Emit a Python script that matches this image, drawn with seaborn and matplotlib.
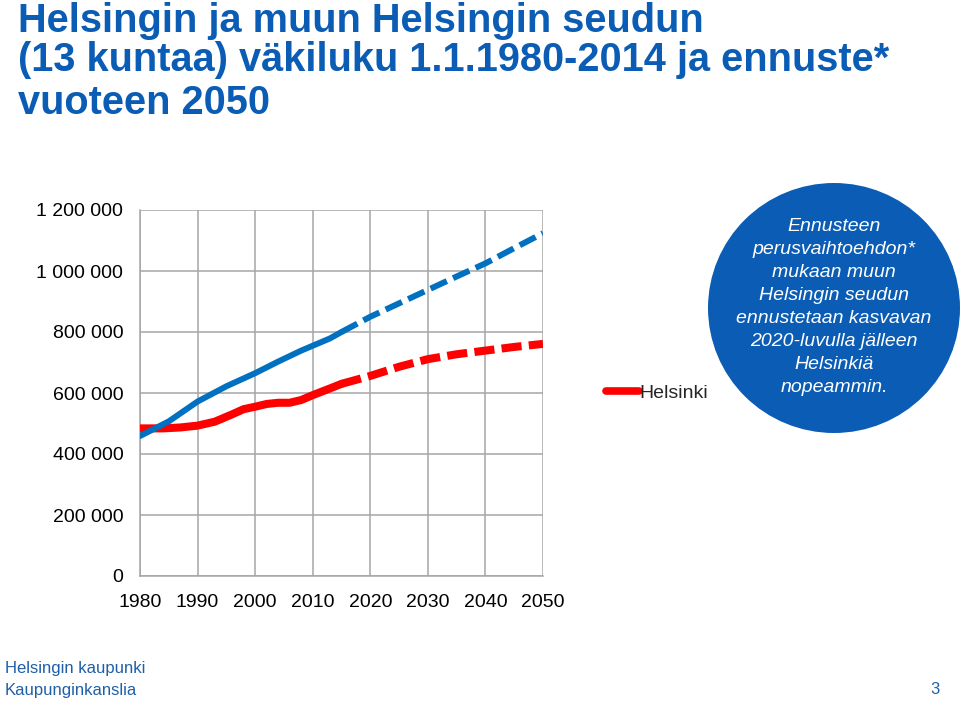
import pandas as pd
import seaborn as sns
import matplotlib.pyplot as plt
from matplotlib.patches import Ellipse
from matplotlib.lines import Line2D

# väkiluku, tuhatta asukasta
hki_years = [1980, 1984, 1987, 1990, 1993, 1996, 1998, 2000, 2002, 2004, 2006, 2008, 2010, 2013, 2015]
hki_pop = [484, 484, 487, 493, 506, 530, 547, 555, 564, 568, 568, 577, 593, 615, 630]
muu_years = [1980, 1985, 1990, 1995, 2000, 2004, 2008, 2010, 2013, 2015]
muu_pop = [459, 507, 572, 622, 665, 703, 739, 755, 779, 800]

fc_years = [2015, 2020, 2025, 2030, 2035, 2040, 2045, 2050]
hki_fc = [630, 656, 686, 711, 727, 739, 751, 761]
muu_fc = [800, 850, 894, 938, 982, 1025, 1075, 1124]

y_ticks = [0, 200000, 400000, 600000, 800000, 1000000, 1200000]
y_labels = ['0', '200 000', '400 000', '600 000', '800 000', '1 000 000', '1 200 000']
x_ticks = [1980, 1990, 2000, 2010, 2020, 2030, 2040, 2050]

ellipse_text = ('Ennusteen\nperusvaihtoehdon*\nmukaan muun\nHelsingin seudun\n'
                'ennustetaan kasvavan\n2020-luvulla jälleen\nHelsinkiä\nnopeammin.')

hki = pd.DataFrame({'vuosi': hki_years, 'vakiluku': [v * 1000 for v in hki_pop]})
muu = pd.DataFrame({'vuosi': muu_years, 'vakiluku': [v * 1000 for v in muu_pop]})
hki_e = pd.DataFrame({'vuosi': fc_years, 'vakiluku': [v * 1000 for v in hki_fc]})
muu_e = pd.DataFrame({'vuosi': fc_years, 'vakiluku': [v * 1000 for v in muu_fc]})

sns.set_style('white')
plt.rcParams['font.family'] = ['Liberation Sans', 'DejaVu Sans']

RED = '#FF0000'
BLUE = '#0070C0'
DARK = '#0A5CB4'
GRID = '#A6A6A6'

fig = plt.figure(figsize=(9.6, 7.04), dpi=100)
ax = fig.add_axes([140 / 960, 1 - 576 / 704, 403 / 960, 366 / 704])

sns.lineplot(data=hki, x='vuosi', y='vakiluku', ax=ax, color=RED, lw=5.8,
             solid_capstyle='round', zorder=3)
sns.lineplot(data=hki_e, x='vuosi', y='vakiluku', ax=ax, color=RED, lw=5.8,
             dashes=(2.5, 0.9), zorder=3)
sns.lineplot(data=muu, x='vuosi', y='vakiluku', ax=ax, color=BLUE, lw=4.3,
             solid_capstyle='round', zorder=4)
sns.lineplot(data=muu_e, x='vuosi', y='vakiluku', ax=ax, color=BLUE, lw=4.3,
             dashes=(3.0, 1.15), zorder=4)

ax.set_xlim(1980, 2050)
ax.set_ylim(0, 1200000)
ax.set_xticks(x_ticks)
ax.set_yticks(y_ticks)
ax.set_yticklabels(y_labels)
ax.set_xlabel('')
ax.set_ylabel('')
ax.grid(True, color=GRID, lw=1.1)
ax.set_axisbelow(True)
for s in ['top', 'right']:
    ax.spines[s].set_visible(False)
for s in ['left', 'bottom']:
    ax.spines[s].set_color(GRID)
    ax.spines[s].set_linewidth(1.1)
ax.tick_params(axis='both', which='both', direction='out', length=5, width=1.1,
               color=GRID, labelsize=14, labelcolor='black')
ax.tick_params(axis='y', pad=7)
ax.tick_params(axis='x', pad=8)

handle = Line2D([], [], color=RED, lw=5.5)
fig.legend([handle], ['Helsinki'], loc='center left',
           bbox_to_anchor=(606 / 960, 1 - 393 / 704), frameon=False,
           fontsize=14, handlelength=1.7, handletextpad=0.0, borderpad=0,
           borderaxespad=0)

fig.patches.append(Ellipse((834 / 960, 1 - 308 / 704), 252 / 960, 250 / 704,
                           transform=fig.transFigure, facecolor=DARK,
                           edgecolor='none', zorder=5))
fig.text(834 / 960, 1 - 307 / 704, ellipse_text, ha='center', va='center',
         ma='center', color='white', fontsize=14, style='italic',
         linespacing=1.47, zorder=6)

title_lines = ['Helsingin ja muun Helsingin seudun',
               '(13 kuntaa) väkiluku 1.1.1980-2014 ja ennuste*',
               'vuoteen 2050']
title_base = [32, 71, 114]
for line, yb in zip(title_lines, title_base):
    fig.text(18 / 960, 1 - yb / 704, line, ha='left', va='baseline',
             color=DARK, fontsize=28.6, fontweight='bold')

fig.text(5 / 960, 1 - 668 / 704, 'Helsingin kaupunki', ha='left', va='center',
         color='#1F5FA8', fontsize=12)
fig.text(5 / 960, 1 - 690 / 704, 'Kaupunginkanslia', ha='left', va='center',
         color='#1F5FA8', fontsize=12)
fig.text(940 / 960, 1 - 690 / 704, '3', ha='right', va='center',
         color='#1F5FA8', fontsize=12)

fig.savefig('out.png', dpi=100)
